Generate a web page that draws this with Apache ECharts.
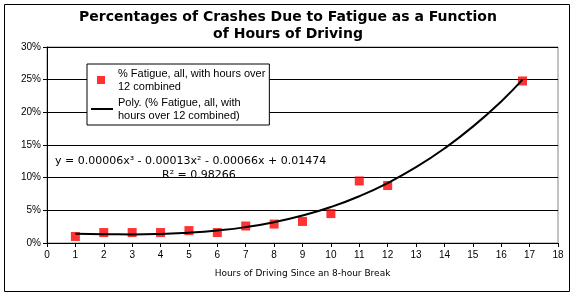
<!DOCTYPE html>
<html><head><meta charset="utf-8">
<script src="https://cdn.jsdelivr.net/npm/echarts@6/dist/echarts.min.js"></script>
<style>html,body{margin:0;padding:0;background:#fff}#c{width:576px;height:296px}</style>
</head><body><div id="c"></div>
<script>
var hours = [1, 2, 3, 4, 5, 6, 7, 8, 9, 10, 11, 12, 16.75];
var fatigue = [0.010, 0.016, 0.016, 0.016, 0.019, 0.016, 0.026, 0.029, 0.033, 0.045, 0.095, 0.088, 0.248];
var trendX = [1, 2, 3, 4, 5, 6, 7, 8, 9, 10, 11, 12, 13, 14, 15, 16, 16.75];
var trendY = [0.0140, 0.0134, 0.0132, 0.0139, 0.0157, 0.0191, 0.0243, 0.0319, 0.0420, 0.0551, 0.0716, 0.0918, 0.1160, 0.1447, 0.1781, 0.2167, 0.2500];
var xTicks = [0, 18, 1];
var yTicks = [0, 0.30, 0.05];
var seriesNames = ['% Fatigue, all, with hours over\n12 combined', 'Poly. (% Fatigue, all, with\nhours over 12 combined)'];
var titleText = 'Percentages of Crashes Due to Fatigue as a Function\nof Hours of Driving';
var xName = 'Hours of Driving Since an 8-hour Break';
var eqText = 'y = 0.00006x\u00B3 - 0.00013x\u00B2 - 0.00066x + 0.01474';
var r2Text = 'R\u00B2 = 0.98266';

var chart = echarts.init(document.getElementById('c'), null, {renderer: 'canvas'});
var font = 'DejaVu Sans, Verdana, sans-serif';
var font2 = 'Liberation Sans, Arial, sans-serif';
chart.setOption({
  animation: false,
  backgroundColor: '#fff',
  title: {
    text: titleText, left: 'center', top: 4,
    textStyle: {fontFamily: font, fontSize: 14, fontWeight: 'bold', color: '#000', lineHeight: 17}
  },
  grid: {left: 47, right: 18, top: 47, bottom: 53, show: true, borderColor: '#888', borderWidth: 1},
  legend: {
    left: 87, top: 64, orient: 'vertical', itemGap: 3,
    backgroundColor: '#fff', borderColor: '#000', borderWidth: 1, padding: [3, 4, 3, 4],
    textStyle: {fontFamily: font2, fontSize: 11, color: '#000', lineHeight: 13},
    itemWidth: 22, itemHeight: 8,
    data: [
      {name: seriesNames[0], icon: 'path://M0,0L0,0M6,0H14V8H6ZM22,8L22,8', itemStyle: {color: '#ff0000'}},
      {name: seriesNames[1], icon: 'path://M0,0L0,0M0,3H22V5H0ZM22,8L22,8', itemStyle: {color: '#000'}}
    ]
  },
  xAxis: {
    type: 'value', min: xTicks[0], max: xTicks[1], interval: xTicks[2],
    name: xName, nameLocation: 'middle', nameGap: 26,
    nameTextStyle: {fontFamily: font, fontSize: 9, color: '#000'},
    axisLine: {lineStyle: {color: '#000'}},
    axisTick: {show: true, length: 4, lineStyle: {color: '#000'}},
    axisLabel: {fontFamily: font2, fontSize: 10, color: '#000', margin: 7},
    splitLine: {show: false}
  },
  yAxis: {
    type: 'value', min: yTicks[0], max: yTicks[1], interval: yTicks[2],
    axisLine: {show: true, lineStyle: {color: '#000'}},
    axisTick: {show: true, length: 4, lineStyle: {color: '#000'}},
    axisLabel: {fontFamily: font2, fontSize: 10, color: '#000', margin: 6,
      formatter: function (v) { return Math.round(v * 100) + '%'; }},
    splitLine: {show: true, lineStyle: {color: '#000', width: 1}}
  },
  graphic: [
    {type: 'rect', shape: {x: 4.5, y: 4.5, width: 565, height: 287}, style: {fill: 'none', stroke: '#000', lineWidth: 1}, z: -1, silent: true},
    {type: 'text', left: 55, top: 156, style: {text: eqText, font: '11px ' + font, fill: '#000'}, z: 10},
    {type: 'text', left: 162, top: 170, style: {text: r2Text, font: '11px ' + font, fill: '#000'}, z: 10}
  ],
  series: [
    {
      name: seriesNames[0], type: 'scatter', symbol: 'rect', symbolSize: 9,
      itemStyle: {color: '#ff0000'}, z: 3,
      data: hours.map(function (h, i) { return [h, fatigue[i]]; })
    },
    {
      name: seriesNames[1], type: 'line', smooth: true, showSymbol: false, symbol: 'none',
      lineStyle: {color: '#000', width: 2}, itemStyle: {color: '#000'}, z: 4,
      data: trendX.map(function (h, i) { return [h, trendY[i]]; })
    }
  ]
});
</script></body></html>
